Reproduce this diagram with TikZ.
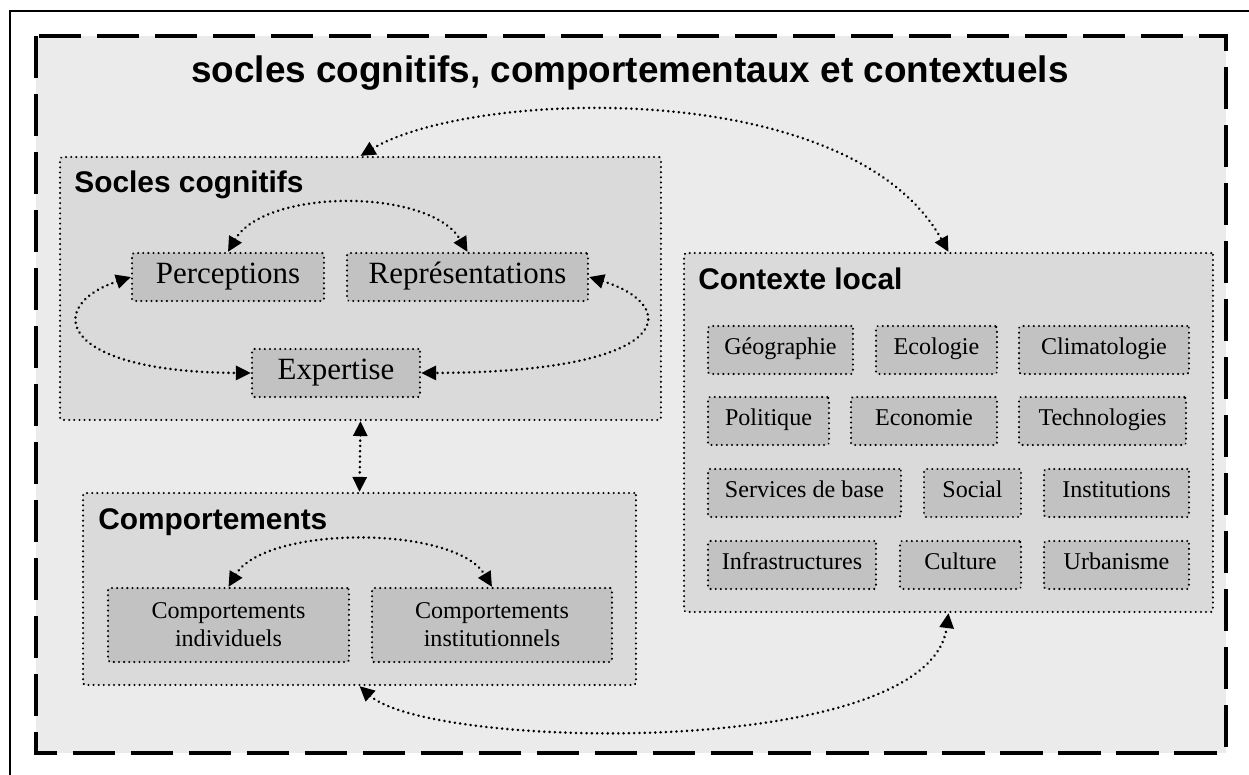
\documentclass[tikz,border=0pt]{standalone}
\usepackage{fontspec}
\setmainfont{Liberation Serif}
\setsansfont{Liberation Sans}
\usetikzlibrary{arrows.meta}
\definecolor{paper}{gray}{0.92}
\definecolor{panelgray}{gray}{0.855}
\definecolor{cellgray}{gray}{0.76}
\begin{document}
\begin{tikzpicture}[x=0.02cm,y=-0.02cm,
    panel/.style={draw,fill=panelgray,line width=1.3pt,dash pattern=on 0.01pt off 2.9pt,
      line cap=round,rounded corners=1pt,inner sep=0pt},
    cell/.style={draw,fill=cellgray,line width=1.3pt,dash pattern=on 0.01pt off 2.9pt,
      line cap=round,rounded corners=1pt,inner sep=0pt,minimum height=0.96cm,
      text height=1.5ex,text depth=0.5ex,
      align=center,font=\fontsize{13.7}{16}\selectfont},
    bigcell/.style={cell,text height=1.8ex,text depth=0.2ex,font=\fontsize{17.6}{20}\selectfont},
    twoline/.style={cell,text height=,text depth=,minimum height=1.48cm},
    heading/.style={anchor=base west,inner sep=0pt,
      font=\sffamily\bfseries\fontsize{17}{20}\selectfont},
    link/.style={{Triangle[length=8.5pt,width=8pt]}-{Triangle[length=8.5pt,width=8pt]},
      line width=1.6pt,dash pattern=on 0.01pt off 3pt,line cap=round}]
  \useasboundingbox (0,0) rectangle (1249,775);
  % outer frame (cut by the page on the right and bottom)
  \draw[line width=0.8pt] (1249,11) -- (10,11) -- (10,775);
  % dashed background
  \draw[fill=paper,line width=2.8pt,dash pattern=on 24pt off 9pt] (36,36) rectangle (1226,753);
  \node[anchor=base,inner sep=0pt,font=\sffamily\bfseries\fontsize{21}{24}\selectfont]
    (title) at (630,82) {socles cognitifs, comportementaux et contextuels};

  % three panels
  \node[panel,minimum width=12.02cm,minimum height=5.26cm] (socles) at (360.5,288.5) {};
  \node[panel,minimum width=11.06cm,minimum height=3.84cm] (comport) at (359.5,589) {};
  \node[panel,minimum width=10.58cm,minimum height=7.18cm] (contexte) at (948.5,432.5) {};
  \node[heading] (soclestitle) at (74,192) {Socles cognitifs};
  \node[heading] (comporttitle) at (98,529) {Comportements};
  \node[heading] (contextetitle) at (698,289) {Contexte local};

  % cognitive items
  \node[bigcell,minimum width=3.84cm] (perc) at (228,277) {Perceptions};
  \node[bigcell,minimum width=4.82cm] (repr) at (467.5,277) {Représentations};
  \node[bigcell,minimum width=3.36cm] (expert) at (336,373) {Expertise};

  % behaviours
  \node[twoline,minimum width=4.82cm] (indiv) at (228.5,625) {Comportements\\individuels};
  \node[twoline,minimum width=4.8cm] (instit) at (492,625) {Comportements\\institutionnels};

  % local context, four rows
  \node[cell,minimum width=2.9cm] (geo) at (780.5,350) {Géographie};
  \node[cell,minimum width=2.42cm] (eco) at (936.5,350) {Ecologie};
  \node[cell,minimum width=3.4cm] (clim) at (1104,350) {Climatologie};
  \node[cell,minimum width=2.42cm] (poli) at (768.5,421) {Politique};
  \node[cell,minimum width=2.92cm] (econ) at (924,421) {Economie};
  \node[cell,minimum width=3.34cm] (techno) at (1102.5,421) {Technologies};
  \node[cell,minimum width=3.86cm] (serv) at (804.5,493) {Services de base};
  \node[cell,minimum width=1.94cm] (social) at (972.5,493) {Social};
  \node[cell,minimum width=2.9cm] (inst) at (1116.5,493) {Institutions};
  \node[cell,minimum width=3.36cm] (infra) at (792,565) {Infrastructures};
  \node[cell,minimum width=2.42cm] (cult) at (960.5,565) {Culture};
  \node[cell,minimum width=2.9cm] (urba) at (1116.5,565) {Urbanisme};

  % links inside the panels
  \draw[link] (perc.north) .. controls (265,188) and (430,188) .. (repr.north);
  \draw[link] (perc.west) .. controls (45,305) and (55,372) .. (expert.west);
  \draw[link] (repr.east) .. controls (680,305) and (680,372) .. (expert.east);
  \draw[link] (indiv.north) .. controls (265,525) and (455,525) .. (instit.north);

  % links between the panels
  \draw[link] (socles.south) -- (comport.north);
  \draw[link] (socles.north) .. controls (470,90) and (850,75) .. (contexte.north);
  \draw[link] (comport.south) .. controls (430,750) and (930,760) .. (contexte.south);
\end{tikzpicture}
\end{document}
